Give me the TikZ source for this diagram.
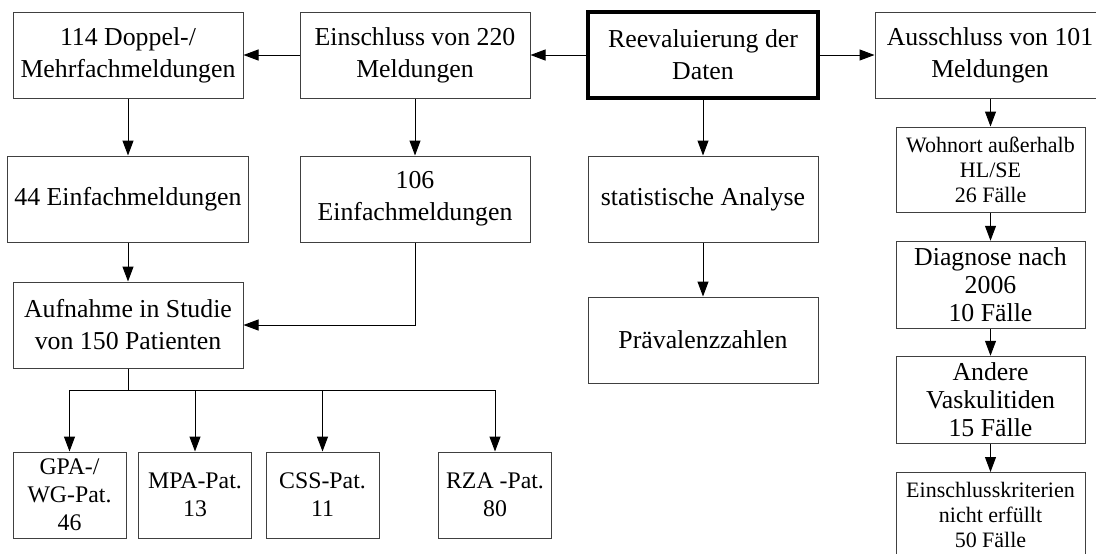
\documentclass[tikz,border=0pt]{standalone}
\usepackage{fontspec}
\setmainfont{Liberation Serif}
\usetikzlibrary{arrows.meta}
\tikzset{>={Triangle[length=7.5pt,width=5.5pt]}}

\begin{document}
\begin{tikzpicture}[x=0.5pt,y=-0.5pt,line width=0.5pt,
	bigbox/.style={draw=black!75,minimum width=115pt,minimum height=43pt,align=center,font=\fontsize{12.9}{16}\selectfont},
	sidebox/.style={draw=black!75,minimum width=94.5pt,minimum height=42.5pt,align=center,font=\fontsize{11}{12.5}\selectfont},
	sidebig/.style={sidebox,font=\fontsize{12.9}{14}\selectfont},
	patbox/.style={draw=black!75,minimum width=56.5pt,minimum height=43pt,align=center,font=\fontsize{11.9}{14}\selectfont}]
	\path[fill=white,use as bounding box] (0,0) rectangle (1096,553);
	% top row
	\node[bigbox] (dop) at (128,55) {114 Doppel-/\\Mehrfachmeldungen};
	\node[bigbox] (ein) at (415,55) {Einschluss von 220\\Meldungen};
	\node[bigbox,line width=2pt,draw=black] (reev) at (703,55) {Reevaluierung der\\Daten};
	\node[bigbox] (aus) at (990,55) {Ausschluss von 101\\Meldungen};
	% second and third row
	\node[bigbox] (einf44) at (128,199) {44 Einfachmeldungen};
	\node[bigbox] (einf106) at (415,199) {106\\Einfachmeldungen};
	\node[bigbox] (stat) at (703,199) {statistische Analyse};
	\node[bigbox] (auf) at (128,325) {Aufnahme in Studie\\von 150 Patienten};
	\node[bigbox] (prae) at (703,340) {Prävalenzzahlen};
	% excluded cases
	\node[sidebox] (wohn) at (990.5,169.5) {Wohnort außerhalb\\HL/SE\\26 Fälle};
	\node[sidebig] (diag) at (990.5,285) {Diagnose nach\\2006\\10 Fälle};
	\node[sidebig] (vask) at (990.5,400) {Andere\\Vaskulitiden\\15 Fälle};
	\node[sidebox] (krit) at (990.5,515) {Einschlusskriterien\\nicht erfüllt\\50 Fälle};
	% patient groups
	\node[patbox] (gpa) at (69.5,495) {GPA-/\\WG-Pat.\\46};
	\node[patbox] (mpa) at (195,495) {MPA-Pat.\\13};
	\node[patbox] (css) at (322.5,495) {CSS-Pat.\\11};
	\node[patbox] (rza) at (495,495) {RZA -Pat.\\80};
	\coordinate (bus) at (128,390);

	\draw[->] (ein) -- (dop);
	\draw[->] (reev) -- (ein);
	\draw[->] (reev) -- (aus);
	\draw[->] (dop) -- (einf44);
	\draw[->] (ein) -- (einf106);
	\draw[->] (reev) -- (stat);
	\draw[->] (stat) -- (prae);
	\draw[->] (einf44) -- (auf);
	\draw[->] (einf106.south) |- (auf.east);
	\draw (auf.south) -- (bus);
	\foreach \n in {gpa,mpa,css,rza}
		\draw[->] (bus) -| (\n.north);
	\draw[->] (aus.south -| wohn.north) -- (wohn);
	\draw[->] (wohn) -- (diag);
	\draw[->] (diag) -- (vask);
	\draw[->] (vask) -- (krit);
\end{tikzpicture}
\end{document}
